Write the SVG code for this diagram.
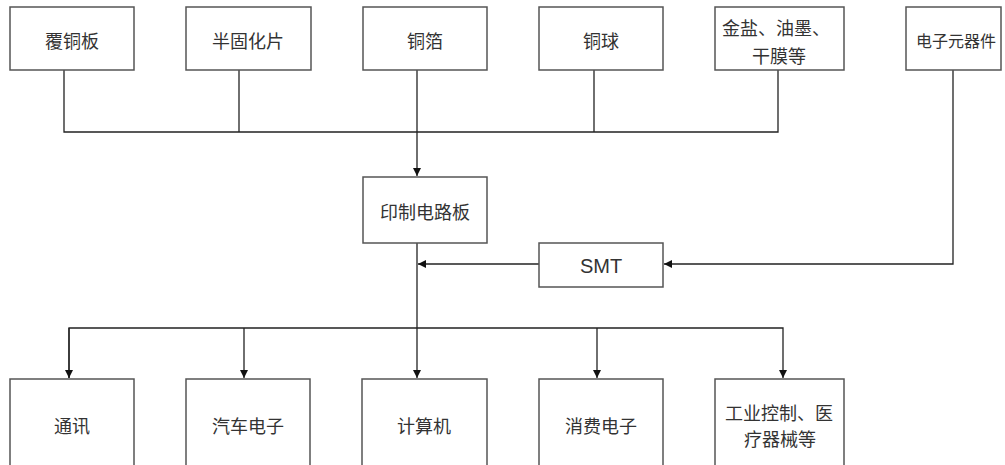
<svg xmlns="http://www.w3.org/2000/svg" width="1005" height="465" viewBox="0 0 1005 465">
<style>
.box{fill:#fff;stroke:#555;stroke-width:1.5}
.t{font-family:"Noto Sans CJK SC","Noto Sans",sans-serif;font-size:18px;fill:#333;text-anchor:middle;dominant-baseline:central}
.s{font-size:16px}
.c{fill:none;stroke:#222;stroke-width:1.3}
</style>
<defs>
<marker id="ah" markerWidth="10" markerHeight="10" refX="9" refY="5" orient="auto" markerUnits="userSpaceOnUse">
<path d="M1,1 L9,5 L1,9 Z" fill="#111"/>
</marker>
</defs>
<rect width="1005" height="465" fill="#fff"/>
<g id="connectors">
<path class="c" d="M64,70 V132 H778 V70"/>
<path class="c" d="M239,70 V132"/>
<path class="c" d="M594,70 V132"/>
<path class="c" d="M417,70 V176" marker-end="url(#ah)"/>
<path class="c" d="M953,70 V264 H664" marker-end="url(#ah)"/>
<path class="c" d="M539,264 H418" marker-end="url(#ah)"/>
<path class="c" d="M417,243 V378" marker-end="url(#ah)"/>
<path class="c" d="M69,378 V328 H783 V378" marker-end="url(#ah)"/>
<path class="c" d="M69,328 V378" marker-end="url(#ah)"/>
<path class="c" d="M244,328 V378" marker-end="url(#ah)"/>
<path class="c" d="M597,328 V378" marker-end="url(#ah)"/>
</g>
<g id="n1"><rect class="box" x="10" y="7" width="124" height="63"/><text class="t" x="72" y="40">覆铜板</text></g>
<g id="n2"><rect class="box" x="186" y="7" width="125" height="63"/><text class="t" x="248" y="40">半固化片</text></g>
<g id="n3"><rect class="box" x="363" y="7" width="124" height="63"/><text class="t" x="425" y="40">铜箔</text></g>
<g id="n4"><rect class="box" x="539" y="7" width="124" height="63"/><text class="t" x="601" y="40">铜球</text></g>
<g id="n5"><rect class="box" x="715" y="7" width="129" height="63"/><text class="t" x="776" y="27">金盐、油墨、</text><text class="t" x="779" y="55">干膜等</text></g>
<g id="n6"><rect class="box" x="906" y="7" width="95" height="63"/><text class="t s" x="956" y="40">电子元器件</text></g>
<g id="pcb"><rect class="box" x="363" y="177" width="124" height="66"/><text class="t" x="425" y="211">印制电路板</text></g>
<g id="smt"><rect class="box" x="539" y="243" width="124" height="44"/><text class="t" x="601" y="266" style="font-family:'Liberation Sans',sans-serif;font-size:20px">SMT</text></g>
<g id="b1"><rect class="box" x="10" y="379" width="124" height="100"/><text class="t" x="72" y="425">通讯</text></g>
<g id="b2"><rect class="box" x="186" y="379" width="124" height="100"/><text class="t" x="248" y="425">汽车电子</text></g>
<g id="b3"><rect class="box" x="362" y="379" width="125" height="100"/><text class="t" x="424" y="425">计算机</text></g>
<g id="b4"><rect class="box" x="539" y="379" width="124" height="100"/><text class="t" x="601" y="425">消费电子</text></g>
<g id="b5"><rect class="box" x="715" y="379" width="129" height="100"/><text class="t" x="779" y="412">工业控制、医</text><text class="t" x="780" y="438">疗器械等</text></g>
</svg>
